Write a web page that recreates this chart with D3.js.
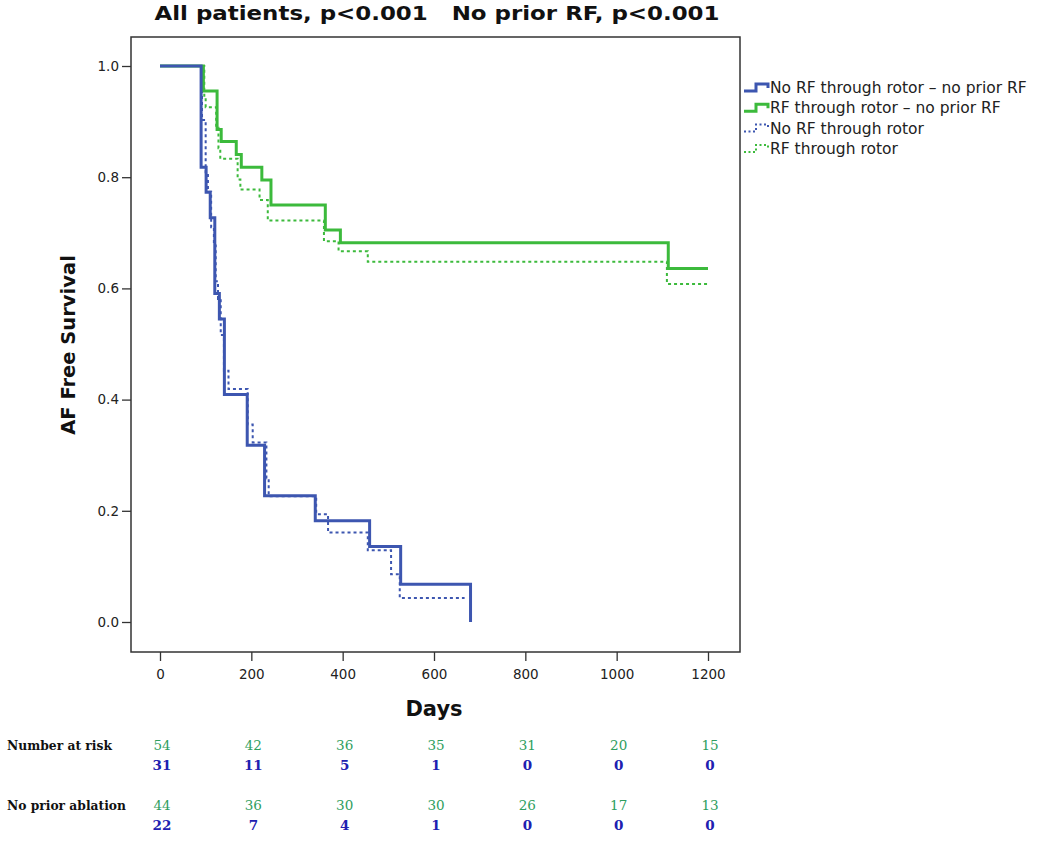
<!DOCTYPE html>
<html><head><meta charset="utf-8">
<script src="https://cdn.jsdelivr.net/npm/d3@7"></script>
<style>body{margin:0;background:#fff} text{white-space:pre}</style>
</head><body>
<svg id="c" width="1050" height="852"></svg>
<script>
// ---- Data ----
const titleText = "All patients, p<0.001   No prior RF, p<0.001";
const xTicks = [0, 200, 400, 600, 800, 1000, 1200];
const yTicks = [0.0, 0.2, 0.4, 0.6, 0.8, 1.0];

// Step survival curves: time (days) and survival from that time onward
const rfNoPriorT = [0, 95, 125, 134, 167, 178, 223, 243, 362, 395, 1113, 1200];
const rfNoPriorS = [1, 0.955, 0.886, 0.864, 0.841, 0.818, 0.795, 0.75, 0.705, 0.682, 0.636, 0.636];

const rfAllT = [0, 97, 100, 123, 128, 132, 170, 176, 218, 236, 359, 391, 455, 1110, 1200];
const rfAllS = [1, 0.944, 0.926, 0.889, 0.852, 0.833, 0.796, 0.778, 0.759, 0.722, 0.685, 0.667, 0.648, 0.608, 0.608];

const noRfNoPriorT = [0, 90, 101, 110, 120, 130, 141, 191, 229, 340, 459, 527, 680];
const noRfNoPriorS = [1, 0.818, 0.773, 0.727, 0.591, 0.545, 0.409, 0.318, 0.227, 0.182, 0.136, 0.068, 0.0];

const noRfAllT = [0, 92, 100, 105, 112, 118, 122, 127, 133, 140, 150, 192, 203, 233, 238, 342, 368, 455, 506, 525, 667];
const noRfAllS = [1, 0.903, 0.806, 0.774, 0.71, 0.677, 0.613, 0.581, 0.516, 0.452, 0.419, 0.355, 0.323, 0.258, 0.226, 0.194, 0.161, 0.129, 0.086, 0.043, 0.043];

const legendLabels = ["No RF through rotor \u2013 no prior RF", "RF through rotor \u2013 no prior RF", "No RF through rotor", "RF through rotor"];

const riskDays = [0, 200, 400, 600, 800, 1000, 1200];
const riskAllRF = [54, 42, 36, 35, 31, 20, 15];
const riskAllNoRF = [31, 11, 5, 1, 0, 0, 0];
const riskNoPriorRF = [44, 36, 30, 30, 26, 17, 13];
const riskNoPriorNoRF = [22, 7, 4, 1, 0, 0, 0];
const riskLabels = ["Number at risk", "No prior ablation"];

// ---- Drawing ----
const blue = "#3d56b0", green = "#3cba3c";
const svg = d3.select("#c");
const font = "'DejaVu Sans', sans-serif";
const frame = {l: 131, r: 740, t: 37, b: 652};
const x = d3.scaleLinear().domain([0, 1200]).range([160, 708]);
const y = d3.scaleLinear().domain([0, 1]).range([622, 66]);

svg.append("text").attr("x", 437).attr("y", 20).attr("text-anchor", "middle")
  .attr("font-family", font).attr("font-weight", "bold").attr("font-size", 20).attr("fill", "#111")
  .attr("textLength", 565).attr("lengthAdjust", "spacingAndGlyphs")
  .text(titleText);

svg.append("rect").attr("x", frame.l).attr("y", frame.t).attr("width", frame.r - frame.l).attr("height", frame.b - frame.t)
  .attr("fill", "none").attr("stroke", "#333").attr("stroke-width", 1.5);

const yAxis = svg.append("g").attr("transform", `translate(${frame.l},0)`)
  .call(d3.axisLeft(y).tickValues(yTicks).tickFormat(d3.format(".1f")).tickSize(9).tickPadding(3));
const xAxis = svg.append("g").attr("transform", `translate(0,${frame.b})`)
  .call(d3.axisBottom(x).tickValues(xTicks).tickFormat(d3.format("d")).tickSize(9).tickPadding(8));
[yAxis, xAxis].forEach(g => {
  g.select(".domain").remove();
  g.selectAll("line").attr("stroke", "#333").attr("stroke-width", 1.3);
  g.selectAll("text").attr("font-family", font).attr("font-size", 13.5).attr("fill", "#222");
});

svg.append("text").attr("x", 434).attr("y", 716).attr("text-anchor", "middle")
  .attr("font-family", font).attr("font-weight", "bold").attr("font-size", 21).attr("fill", "#111").text("Days");
svg.append("text").attr("transform", "translate(75,345) rotate(-90)").attr("text-anchor", "middle")
  .attr("font-family", font).attr("font-weight", "bold").attr("font-size", 19.5).attr("fill", "#111").text("AF Free Survival");

function pts(T, S) { return T.map((t, i) => [t, S[i]]); }
const line = d3.line().x(d => x(d[0])).y(d => y(d[1])).curve(d3.curveStepAfter);
const series = [
  {T: rfAllT, S: rfAllS, c: green, w: 2, dash: "3,3"},
  {T: noRfAllT, S: noRfAllS, c: blue, w: 2, dash: "3,3"},
  {T: rfNoPriorT, S: rfNoPriorS, c: green, w: 3, dash: null},
  {T: noRfNoPriorT, S: noRfNoPriorS, c: blue, w: 3, dash: null}
];
series.forEach(s => {
  svg.append("path").datum(pts(s.T, s.S)).attr("d", line).attr("fill", "none")
    .attr("stroke", s.c).attr("stroke-width", s.w).attr("stroke-dasharray", s.dash);
});

// Legend
const legStyles = [
  {c: blue, w: 3, dash: null}, {c: green, w: 3, dash: null},
  {c: blue, w: 2, dash: "2,2.5"}, {c: green, w: 2, dash: "2,2.5"}
];
legendLabels.forEach((lab, i) => {
  const yy = 88 + i * 20.3;
  const st = legStyles[i];
  svg.append("path").attr("d", `M744,${yy + 3}H756V${yy - 4}H768V${yy}`)
    .attr("fill", "none").attr("stroke", st.c).attr("stroke-width", st.w).attr("stroke-dasharray", st.dash);
  svg.append("text").attr("x", 770).attr("y", yy + 5).attr("font-family", font).attr("font-size", 15.5)
    .attr("fill", "#222").text(lab);
});

// Number at risk table
const serif = "'DejaVu Serif', 'Liberation Serif', serif";
const rows = [
  {label: riskLabels[0], y1: 750, a: riskAllRF, b: riskAllNoRF},
  {label: riskLabels[1], y1: 810, a: riskNoPriorRF, b: riskNoPriorNoRF}
];
rows.forEach(r => {
  svg.append("text").attr("x", 7).attr("y", r.y1).attr("font-family", serif).attr("font-size", 13)
    .attr("font-weight", 600).attr("fill", "#111").attr("textLength", r.label === riskLabels[0] ? 105 : 119)
    .attr("lengthAdjust", "spacingAndGlyphs").text(r.label);
  riskDays.forEach((d, i) => {
    svg.append("text").attr("x", x(d) + 2).attr("y", r.y1).attr("text-anchor", "middle")
      .attr("font-family", serif).attr("font-size", 13.5).attr("fill", "#2e9e5e").text(r.a[i]);
    svg.append("text").attr("x", x(d) + 2).attr("y", r.y1 + 20).attr("text-anchor", "middle")
      .attr("font-family", serif).attr("font-size", 13.5).attr("font-weight", "bold").attr("fill", "#2020b0").text(r.b[i]);
  });
});
</script>
</body></html>
